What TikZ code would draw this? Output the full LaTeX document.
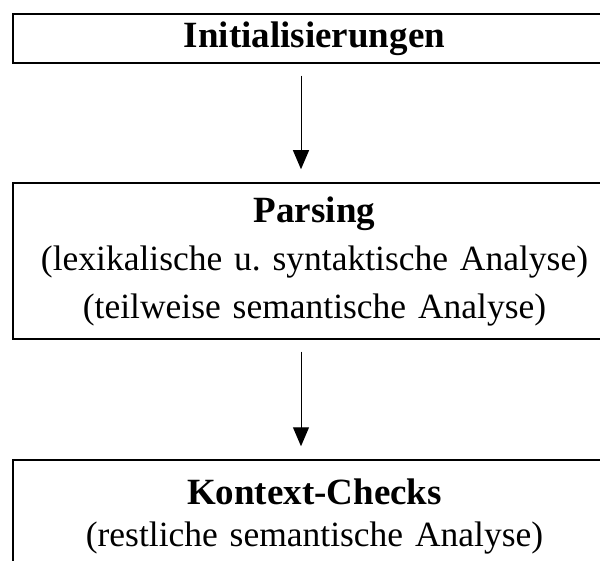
\documentclass[tikz,border=0pt]{standalone}
\usepackage{fontspec}
\setmainfont{Liberation Serif}
\usetikzlibrary{arrows.meta, positioning}

\newcommand{\phasehead}[1]{{\fontsize{37}{48}\selectfont\bfseries #1}}

\begin{document}
\begin{tikzpicture}[x=1pt, y=1pt,
    phase/.style={rectangle, draw, line width=1.5pt, text width=600pt,
        align=center, inner sep=0pt, minimum width=603pt,
        font=\fontsize{35.5}{48}\selectfont\frenchspacing},
    flow/.style={-{Triangle[length=19pt, width=16pt]}, line width=1pt,
        shorten <=12pt, shorten >=13pt}
]
\useasboundingbox (0,0) rectangle (600,-561);
\clip (0,0) rectangle (600,-561);

\node (init) [phase, minimum height=49pt] at (314.5,-38.5)
  {\phasehead{Initialisierungen}};
\node (parse) [phase, minimum height=156pt] at (314.5,-261)
  {\phasehead{Parsing}\\(lexikalische u. syntaktische Analyse)\\(teilweise semantische Analyse)};
\node (checks) [phase, minimum height=112pt] at (314.5,-516)
  {\phasehead{Kontext-Checks}\\[-6pt](restliche semantische Analyse)};

\draw[flow] ([xshift=-13.5pt]init.south) -- ([xshift=-13.5pt]parse.north);
\draw[flow] ([xshift=-13.5pt]parse.south) -- ([xshift=-13.5pt]checks.north);

\end{tikzpicture}
\end{document}
